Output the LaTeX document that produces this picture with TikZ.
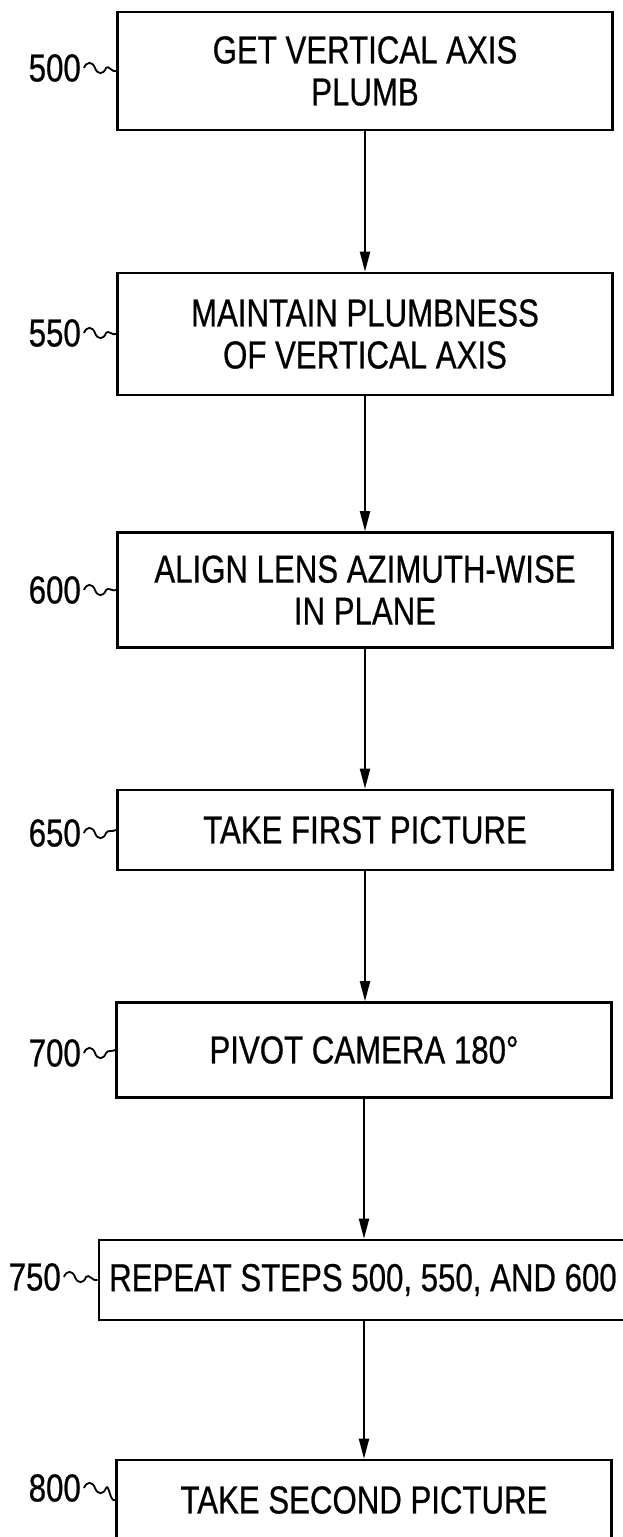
\documentclass[tikz,border=0pt]{standalone}
\usepackage{fontspec}
\setmainfont{Liberation Sans}[FakeStretch=0.8,FakeBold=0.6]
\usetikzlibrary{arrows.meta}
\tikzset{
  stepbox/.style={draw, line width=2.6pt, minimum width=495pt, inner sep=2pt, align=center,
    font=\fontsize{39}{42}\selectfont},
  lbl/.style={anchor=east, inner sep=3pt, font=\fontsize{39}{42}\selectfont},
  flow/.style={line width=2pt, -{Triangle[length=20pt,width=10pt]}},
  squigline/.style={line width=1.8pt},
}
\newcommand\mysquig[2]{\draw[squigline] (#1.east) to[out=70,in=110,looseness=1.7] ++(11,0) to[out=-70,in=-110,looseness=1.7] ++(11,0) to[out=60,in=-150] (#2.west);}
\begin{document}
\begin{tikzpicture}[x=1pt,y=1pt]
\useasboundingbox (0,0) rectangle (623,-1537);
\node[stepbox, minimum height=118pt] (b500) at (365,-71) {GET VERTICAL AXIS\\PLUMB};
\node[stepbox, minimum height=122pt] (b550) at (365,-334) {MAINTAIN PLUMBNESS\\OF VERTICAL AXIS};
\node[stepbox, minimum height=115pt] (b600) at (365,-590) {ALIGN LENS AZIMUTH-WISE\\IN PLANE};
\node[stepbox, minimum height=80pt] (b650) at (365,-830) {TAKE FIRST PICTURE};
\node[stepbox, minimum height=95pt] (b700) at (364,-1050) {PIVOT CAMERA 180°};
\node[stepbox, minimum height=80pt, minimum width=528pt] (b750) at (363,-1280) {REPEAT STEPS 500, 550, AND 600};
\node[stepbox, minimum height=80pt] (b800) at (364,-1500) {TAKE SECOND PICTURE};
\node[lbl] (l500) at (84,-68) {500};
\node[lbl] (l550) at (84,-333) {550};
\node[lbl] (l600) at (84,-590) {600};
\node[lbl] (l650) at (84,-833) {650};
\node[lbl] (l700) at (84,-1053) {700};
\node[lbl] (l750) at (64,-1277) {750};
\node[lbl] (l800) at (84,-1488) {800};
\mysquig{l500}{b500}
\mysquig{l550}{b550}
\mysquig{l600}{b600}
\mysquig{l650}{b650}
\mysquig{l700}{b700}
\mysquig{l750}{b750}
\mysquig{l800}{b800}
\draw[flow] (b500.south) -- (b500.south |- b550.north);
\draw[flow] (b550.south) -- (b550.south |- b600.north);
\draw[flow] (b600.south) -- (b600.south |- b650.north);
\draw[flow] (b650.south) -- (b650.south |- b700.north);
\draw[flow] (b700.south) -- (b700.south |- b750.north);
\draw[flow] (b750.south -| b700.south) -- (b700.south |- b800.north);
\end{tikzpicture}
\end{document}
